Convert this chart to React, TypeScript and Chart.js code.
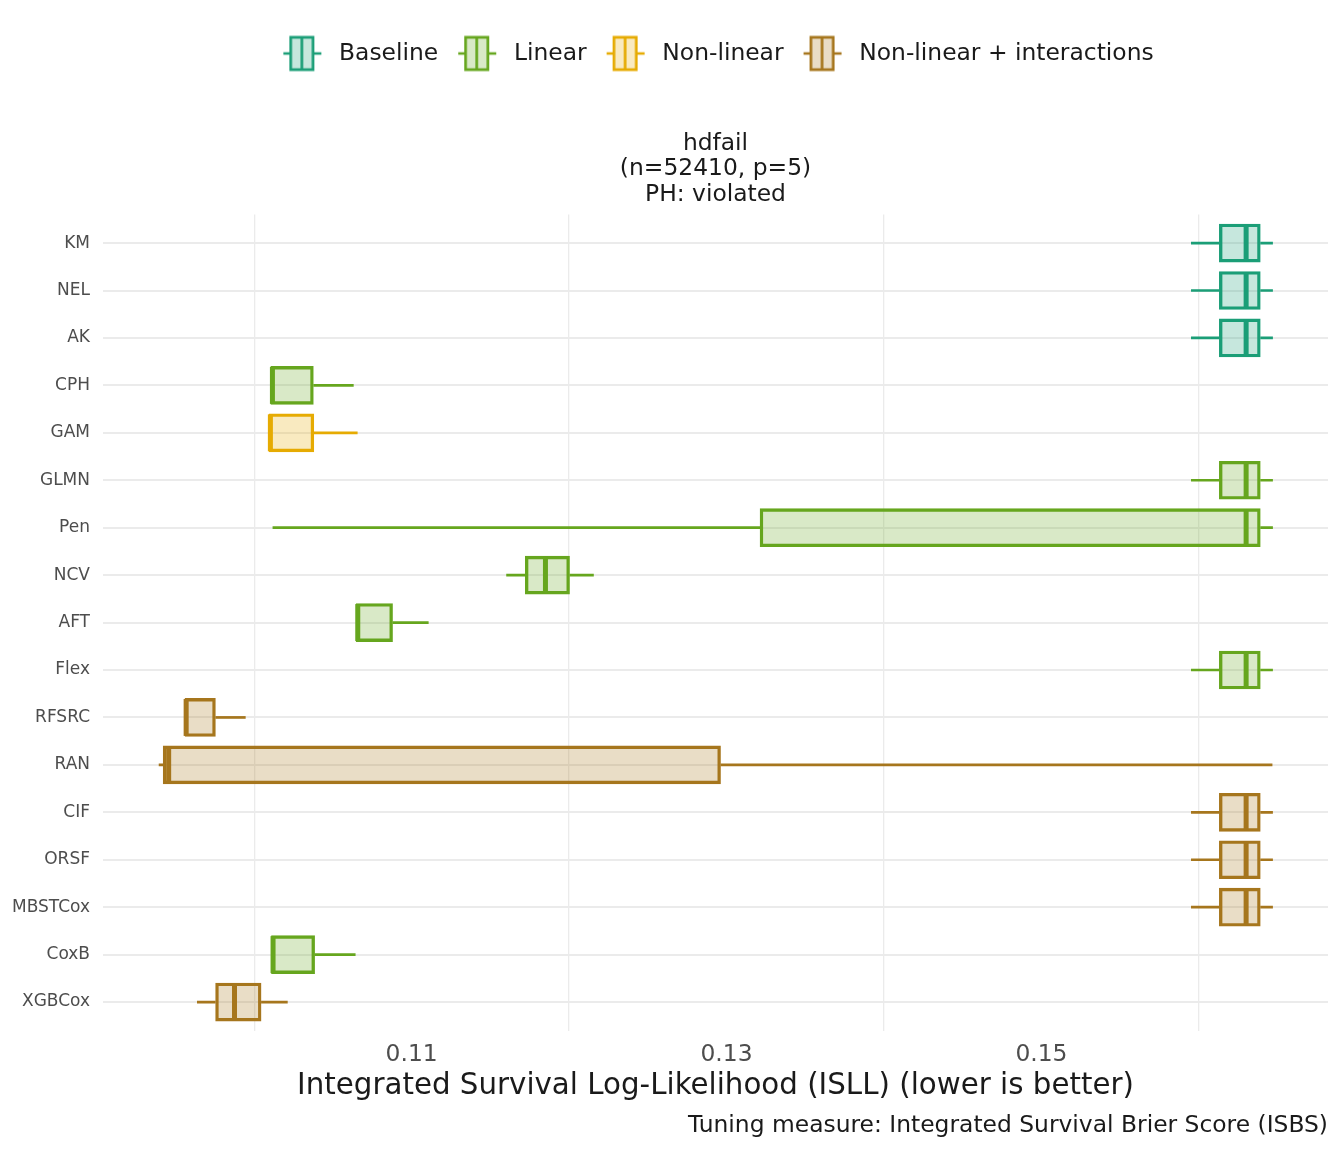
import React, { useEffect, useRef } from 'react';
import { Chart, registerables } from 'chart.js';

Chart.register(...registerables);

// ---------- data ----------
const categories = ['KM', 'NEL', 'AK', 'CPH', 'GAM', 'GLMN', 'Pen', 'NCV', 'AFT', 'Flex', 'RFSRC', 'RAN', 'CIF', 'ORSF', 'MBSTCox', 'CoxB', 'XGBCox'];
const groups = ['Baseline', 'Baseline', 'Baseline', 'Linear', 'Non-linear', 'Linear', 'Linear', 'Linear', 'Linear', 'Linear',
  'Non-linear + interactions', 'Non-linear + interactions', 'Non-linear + interactions', 'Non-linear + interactions',
  'Non-linear + interactions', 'Linear', 'Non-linear + interactions'];
const whiskerLow = [0.1595, 0.1595, 0.1595, 0.10106, 0.10095, 0.1595, 0.10117, 0.11601, 0.10648, 0.1595, 0.09561, 0.09394, 0.1595, 0.1595, 0.1595, 0.10110, 0.09637];
const q1 = [0.1613, 0.1613, 0.1613, 0.10106, 0.10095, 0.1613, 0.13213, 0.11722, 0.10648, 0.1613, 0.09561, 0.09422, 0.1613, 0.1613, 0.1613, 0.10110, 0.09755];
const median = [0.1630, 0.1630, 0.1630, 0.10116, 0.10103, 0.1630, 0.1630, 0.11850, 0.10658, 0.1630, 0.09568, 0.09457, 0.1630, 0.1630, 0.1630, 0.10120, 0.09875];
const q3 = [0.1639, 0.1639, 0.1639, 0.10376, 0.10379, 0.1639, 0.1639, 0.12003, 0.10879, 0.1639, 0.09754, 0.12962, 0.1639, 0.1639, 0.1639, 0.10384, 0.10044];
const whiskerHigh = [0.1647, 0.1647, 0.1647, 0.10632, 0.10657, 0.1647, 0.1647, 0.12157, 0.11108, 0.1647, 0.09946, 0.16467, 0.1647, 0.1647, 0.1647, 0.10644, 0.10213];

const groupNames = ['Baseline', 'Linear', 'Non-linear', 'Non-linear + interactions'];
const groupColors = ['#1B9E77', '#66A61E', '#E6AB02', '#A6761D'];

const xTickValues = [0.10, 0.11, 0.12, 0.13, 0.14, 0.15, 0.16];
const xLabeledTicks = [0.11, 0.13, 0.15];
const xMinorGrid = [0.10, 0.12, 0.14, 0.16];

const titleLines = ['hdfail', '(n=52410, p=5)', 'PH: violated'];
const xAxisTitle = 'Integrated Survival Log-Likelihood (ISLL) (lower is better)';
const captionText = 'Tuning measure: Integrated Survival Brier Score (ISBS)';

// ---------- helpers ----------
const BOX_THICKNESS = 38;
const LINE_W = 2.7;
const MEDIAN_W = 5;

function rgba(hex: string, a: number) {
  const r = parseInt(hex.slice(1, 3), 16);
  const g = parseInt(hex.slice(3, 5), 16);
  const b = parseInt(hex.slice(5, 7), 16);
  return `rgba(${r},${g},${b},${a})`;
}

function inList(v: number, list: number[]) {
  return list.some((t) => Math.abs(t - v) < 1e-9);
}

function makeIcon(color: string) {
  const c = document.createElement('canvas');
  c.width = 50;
  c.height = 38;
  const g = c.getContext('2d')!;
  const ox = 6;
  g.lineWidth = LINE_W;
  g.strokeStyle = color;
  g.beginPath();
  g.moveTo(ox + 0, 19);
  g.lineTo(ox + 7, 19);
  g.moveTo(ox + 31, 19);
  g.lineTo(ox + 38, 19);
  g.stroke();
  g.fillStyle = '#ffffff';
  g.fillRect(ox + 6, 1.5, 25, 35);
  g.fillStyle = rgba(color, 0.25);
  g.fillRect(ox + 6, 1.5, 25, 35);
  g.strokeRect(ox + 7.35, 2.85, 22.3, 32.3);
  g.beginPath();
  g.moveTo(ox + 18.5, 2.85);
  g.lineTo(ox + 18.5, 35.15);
  g.stroke();
  return c;
}

const boxplotExtras = {
  id: 'boxplotExtras',
  beforeDatasetsDraw(chart: any) {
    const { ctx, scales } = chart;
    const x = scales.x;
    const y = scales.y;
    ctx.save();
    ctx.lineWidth = LINE_W;
    categories.forEach((_, i) => {
      const color = groupColors[groupNames.indexOf(groups[i])];
      const yp = y.getPixelForValue(i);
      ctx.strokeStyle = color;
      ctx.beginPath();
      if (whiskerLow[i] < q1[i]) {
        ctx.moveTo(x.getPixelForValue(whiskerLow[i]), yp);
        ctx.lineTo(x.getPixelForValue(q1[i]), yp);
      }
      if (whiskerHigh[i] > q3[i]) {
        ctx.moveTo(x.getPixelForValue(q3[i]), yp);
        ctx.lineTo(x.getPixelForValue(whiskerHigh[i]), yp);
      }
      ctx.stroke();
    });
    ctx.restore();
  },
  afterDatasetsDraw(chart: any) {
    const { ctx, scales } = chart;
    const x = scales.x;
    const y = scales.y;
    const half = BOX_THICKNESS / 2 - 0.5;
    ctx.save();
    ctx.lineWidth = MEDIAN_W;
    categories.forEach((_, i) => {
      const color = groupColors[groupNames.indexOf(groups[i])];
      const yp = y.getPixelForValue(i);
      const xp = x.getPixelForValue(median[i]);
      ctx.strokeStyle = color;
      ctx.beginPath();
      ctx.moveTo(xp, yp - half);
      ctx.lineTo(xp, yp + half);
      ctx.stroke();
    });
    ctx.restore();
  },
};

export default function App() {
  const canvasRef = useRef<HTMLCanvasElement | null>(null);

  useEffect(() => {
    if (!canvasRef.current) return;
    Chart.defaults.font.family = "'DejaVu Sans', sans-serif";
    const icons = groupColors.map((c) => makeIcon(c));

    const datasets = groupNames.map((name, gi) => {
      const data: any[] = [];
      categories.forEach((_, i) => {
        if (groups[i] === name) data.push({ x: [q1[i], q3[i]], y: i });
      });
      return {
        type: 'bar' as const,
        label: name,
        data,
        grouped: false,
        barThickness: BOX_THICKNESS,
        backgroundColor: rgba(groupColors[gi], 0.25),
        borderColor: groupColors[gi],
        borderWidth: LINE_W,
        borderSkipped: false,
      };
    });

    const chart = new Chart(canvasRef.current, {
      type: 'bar',
      data: { datasets },
      plugins: [boxplotExtras],
      options: {
        indexAxis: 'y',
        animation: false,
        responsive: false,
        devicePixelRatio: 1,
        layout: { padding: { top: 27.8, right: 16, bottom: 5.9, left: 0 } },
        scales: {
          x: {
            type: 'linear',
            position: 'bottom',
            min: 0.0904,
            max: 0.1682,
            afterBuildTicks: (scale: any) => {
              scale.ticks = xTickValues.map((v) => ({ value: v }));
            },
            afterFit: (scale: any) => {
              scale.height = 76.4;
            },
            border: { display: false },
            grid: {
              drawTicks: false,
              lineWidth: 1.3,
              color: (ctx: any) => (ctx.tick && inList(ctx.tick.value, xMinorGrid) ? '#EBEBEB' : 'rgba(0,0,0,0)'),
            },
            ticks: {
              autoSkip: false,
              maxRotation: 0,
              padding: 10,
              color: '#4D4D4D',
              font: { size: 23.4 },
              callback: (v: any) => (inList(Number(v), xLabeledTicks) ? Number(v).toFixed(2) : ''),
            },
            title: {
              display: true,
              text: xAxisTitle,
              color: '#1A1A1A',
              font: { size: 29.3 },
              padding: { top: 0, bottom: 3 },
            },
          },
          y: {
            type: 'linear',
            reverse: true,
            offset: false,
            min: -0.6,
            max: categories.length - 1 + 0.6,
            afterBuildTicks: (scale: any) => {
              scale.ticks = categories.map((_, i) => ({ value: i }));
            },
            afterFit: (scale: any) => {
              scale.width = 103;
            },
            border: { display: false },
            grid: { drawTicks: false, offset: false, color: '#EBEBEB', lineWidth: 2 },
            ticks: {
              autoSkip: false,
              padding: 13,
              color: '#4D4D4D',
              font: { size: 17 },
              callback: (v: any) => categories[Number(v)] ?? '',
            },
          },
        },
        plugins: {
          tooltip: { enabled: false },
          legend: {
            display: true,
            position: 'top',
            fullSize: false,
            weight: 3000,
            labels: {
              usePointStyle: true,
              pointStyleWidth: 50,
              padding: 14,
              color: '#1A1A1A',
              font: { size: 23.4 },
              generateLabels: (ch: any) =>
                ch.data.datasets.map((ds: any, i: number) => ({
                  text: ds.label,
                  pointStyle: icons[i],
                  fillStyle: ds.backgroundColor,
                  strokeStyle: ds.borderColor,
                  lineWidth: 0,
                  hidden: false,
                  datasetIndex: i,
                  fontColor: '#1A1A1A',
                })),
            },
          } as any,
          title: {
            display: true,
            text: titleLines,
            fullSize: false,
            color: '#1A1A1A',
            font: { size: 23.4, weight: 'normal', lineHeight: 1.09 },
            padding: { top: 55.6, bottom: 7.3 },
          },
          subtitle: {
            display: true,
            position: 'bottom',
            align: 'end',
            fullSize: false,
            text: captionText,
            color: '#1A1A1A',
            font: { size: 23.4, weight: 'normal' },
            padding: { top: 4.6, bottom: 6.5 },
          },
        },
      } as any,
    });

    return () => chart.destroy();
  }, []);

  return (
    <div style={{ position: 'absolute', left: 0, top: 0, width: 1344, height: 1152, background: '#ffffff' }}>
      <canvas ref={canvasRef} width={1344} height={1152} style={{ width: 1344, height: 1152, display: 'block' }} />
    </div>
  );
}
